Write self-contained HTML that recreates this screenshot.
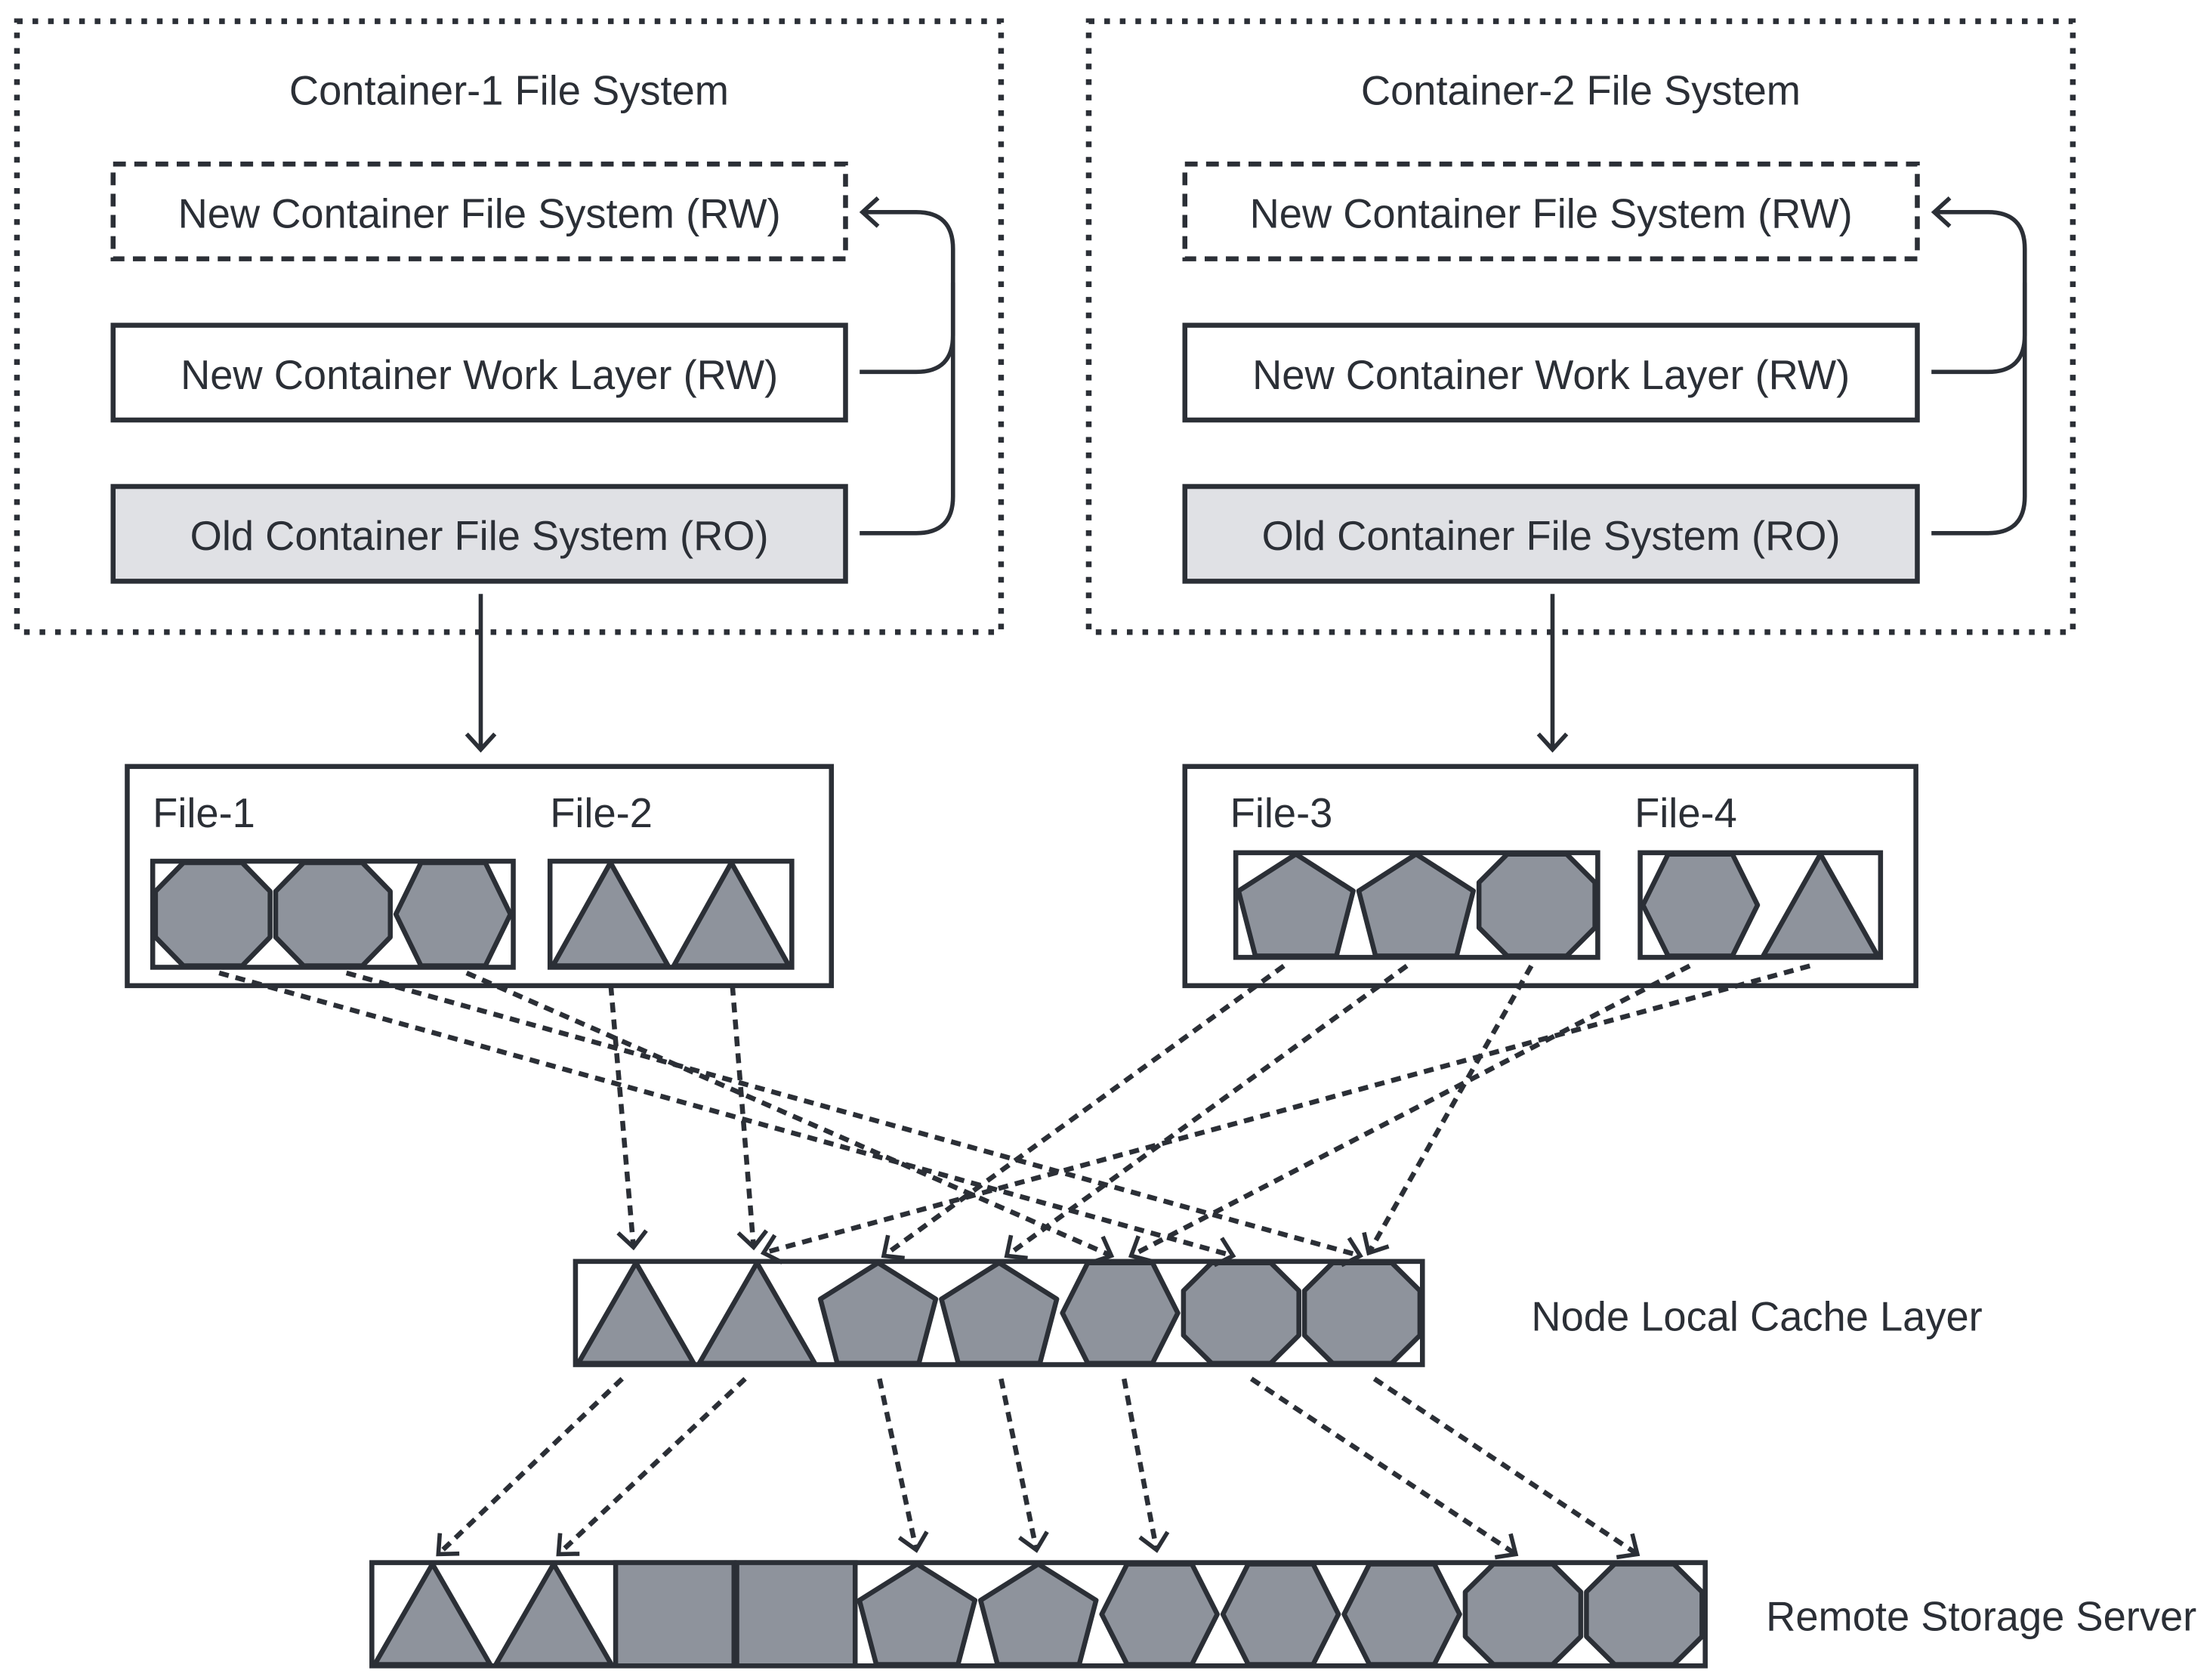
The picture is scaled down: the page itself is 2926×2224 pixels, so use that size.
<!DOCTYPE html>
<html><head><style>html,body{margin:0;padding:0;background:#fff}svg{display:block}</style></head><body>
<svg width="2926" height="2224" viewBox="0 0 1563 1188" xmlns="http://www.w3.org/2000/svg" font-family="Liberation Sans, sans-serif" fill="#2b2f36">
<defs>
<marker id="ah" markerUnits="userSpaceOnUse" markerWidth="26" markerHeight="26" refX="13" refY="13" orient="auto" viewBox="0 0 26 26">
<path d="M2,3 L13,13 L2,23" fill="none" stroke="#2b2f36" stroke-width="3"/>
</marker>
<symbol id="tri" viewBox="0 0 86 74" preserveAspectRatio="none" overflow="visible"><polygon points="43,1 84,73 2,73" fill="#8e939c" stroke="#2b2f36" stroke-width="3.5" stroke-linejoin="round"/></symbol>
<symbol id="pen" viewBox="0 0 86 74" preserveAspectRatio="none" overflow="visible"><polygon points="43,1 84,27 72,73 14,73 2,27" fill="#8e939c" stroke="#2b2f36" stroke-width="3.5" stroke-linejoin="round"/></symbol>
<symbol id="hex" viewBox="0 0 86 74" preserveAspectRatio="none" overflow="visible"><polygon points="20,1 66,1 84,37 66,73 20,73 2,37" fill="#8e939c" stroke="#2b2f36" stroke-width="3.5" stroke-linejoin="round"/></symbol>
<symbol id="oct" viewBox="0 0 86 74" preserveAspectRatio="none" overflow="visible"><polygon points="22,1 64,1 84,21 84,53 64,73 22,73 2,53 2,21" fill="#8e939c" stroke="#2b2f36" stroke-width="3.5" stroke-linejoin="round"/></symbol>
<symbol id="sq" viewBox="0 0 86 74" preserveAspectRatio="none" overflow="visible"><rect x="1" y="0" width="84" height="74" fill="#8e939c" stroke="#2b2f36" stroke-width="3.5"/></symbol>
</defs>

<g fill="none" stroke="#2b2f36">
<rect x="12" y="15" width="696" height="432" stroke-width="4" stroke-dasharray="4 7"/>
<rect x="770" y="15" width="696" height="432" stroke-width="4" stroke-dasharray="4 7"/>
<rect x="80" y="116" width="518" height="67" stroke-width="3.5" stroke-dasharray="9 6"/>
<rect x="838" y="116" width="518" height="67" stroke-width="3.5" stroke-dasharray="9 6"/>
<rect x="80" y="230" width="518" height="67" stroke-width="3.5"/>
<rect x="838" y="230" width="518" height="67" stroke-width="3.5"/>
<rect x="80" y="344" width="518" height="67" stroke-width="3.5" fill="#e0e1e5"/>
<rect x="838" y="344" width="518" height="67" stroke-width="3.5" fill="#e0e1e5"/>
<path d="M608,263 H648 Q674,263 674,237 V176 Q674,150 648,150 H610" stroke-width="3" marker-end="url(#ah)"/>
<path d="M608,377 H648 Q674,377 674,351 V200" stroke-width="3"/>
<path d="M1366,263 H1406 Q1432,263 1432,237 V176 Q1432,150 1406,150 H1368" stroke-width="3" marker-end="url(#ah)"/>
<path d="M1366,377 H1406 Q1432,377 1432,351 V200" stroke-width="3"/>
<line x1="340" y1="420" x2="340" y2="530" stroke-width="3" marker-end="url(#ah)"/>
<line x1="1098" y1="420" x2="1098" y2="530" stroke-width="3" marker-end="url(#ah)"/>
<rect x="90" y="542" width="498" height="155" stroke-width="3.5"/>
<rect x="838" y="542" width="517" height="155" stroke-width="3.5"/>
</g>

<g font-size="29" text-anchor="middle">
<text x="360" y="74">Container-1 File System</text>
<text x="1118" y="74">Container-2 File System</text>
<text x="339" y="161">New Container File System (RW)</text>
<text x="1097" y="161">New Container File System (RW)</text>
<text x="339" y="275">New Container Work Layer (RW)</text>
<text x="1097" y="275">New Container Work Layer (RW)</text>
<text x="339" y="389">Old Container File System (RO)</text>
<text x="1097" y="389">Old Container File System (RO)</text>
</g>
<g font-size="29">
<text x="108" y="585">File-1</text>
<text x="389" y="585">File-2</text>
<text x="870" y="585">File-3</text>
<text x="1156" y="585">File-4</text>
<text x="1083" y="941">Node Local Cache Layer</text>
<text x="1249" y="1153">Remote Storage Server</text>
</g>

<g>
<rect x="108" y="609" width="255" height="75" fill="#fff" stroke="#2b2f36" stroke-width="3.5"/>
<use href="#oct" x="108" y="609" width="85" height="75"/>
<use href="#oct" x="193" y="609" width="85" height="75"/>
<use href="#hex" x="278" y="609" width="85" height="75"/>
<rect x="389" y="609" width="171" height="75" fill="#fff" stroke="#2b2f36" stroke-width="3.5"/>
<use href="#tri" x="389" y="609" width="85.5" height="75"/>
<use href="#tri" x="474.5" y="609" width="85.5" height="75"/>

<rect x="874" y="603" width="256" height="74" fill="#fff" stroke="#2b2f36" stroke-width="3.5"/>
<use href="#pen" x="874" y="603" width="85" height="74"/>
<use href="#pen" x="959" y="603" width="85" height="74"/>
<use href="#oct" x="1044" y="603" width="86" height="74"/>
<rect x="1160" y="603" width="170" height="74" fill="#fff" stroke="#2b2f36" stroke-width="3.5"/>
<use href="#hex" x="1160" y="603" width="85" height="74"/>
<use href="#tri" x="1245" y="603" width="85" height="74"/>

<rect x="407" y="892" width="599" height="73" fill="#fff" stroke="#2b2f36" stroke-width="3.5"/>
<use href="#tri" x="407" y="892" width="85.6" height="73"/>
<use href="#tri" x="492.6" y="892" width="85.6" height="73"/>
<use href="#pen" x="578.2" y="892" width="85.6" height="73"/>
<use href="#pen" x="663.8" y="892" width="85.6" height="73"/>
<use href="#hex" x="749.4" y="892" width="85.6" height="73"/>
<use href="#oct" x="835" y="892" width="85.6" height="73"/>
<use href="#oct" x="920.6" y="892" width="85.6" height="73"/>

<rect x="263" y="1105" width="943" height="73" fill="#fff" stroke="#2b2f36" stroke-width="3.5"/>
<use href="#tri" x="263" y="1105" width="85.7" height="73"/>
<use href="#tri" x="348.7" y="1105" width="85.7" height="73"/>
<use href="#sq" x="434.4" y="1105" width="85.7" height="73"/>
<use href="#sq" x="520.1" y="1105" width="85.7" height="73"/>
<use href="#pen" x="605.8" y="1105" width="85.7" height="73"/>
<use href="#pen" x="691.5" y="1105" width="85.7" height="73"/>
<use href="#hex" x="777.2" y="1105" width="85.7" height="73"/>
<use href="#hex" x="862.9" y="1105" width="85.7" height="73"/>
<use href="#hex" x="948.6" y="1105" width="85.7" height="73"/>
<use href="#oct" x="1034.3" y="1105" width="85.7" height="73"/>
<use href="#oct" x="1120" y="1105" width="85.7" height="73"/>
</g>

<g fill="none" stroke="#2b2f36" stroke-width="3.5" stroke-dasharray="7 5" marker-end="url(#ah)">
<line x1="155" y1="688" x2="872" y2="888"/>
<line x1="245" y1="688" x2="962" y2="888"/>
<line x1="330" y1="688" x2="786" y2="888"/>
<line x1="432" y1="697" x2="448" y2="882"/>
<line x1="518" y1="697" x2="533" y2="882"/>
<line x1="908" y1="683" x2="625" y2="888"/>
<line x1="995" y1="683" x2="712" y2="888"/>
<line x1="1083" y1="683" x2="968" y2="886"/>
<line x1="1195" y1="683" x2="800" y2="888"/>
<line x1="1280" y1="683" x2="540" y2="886"/>
<line x1="440" y1="975" x2="310" y2="1099"/>
<line x1="527" y1="975" x2="395" y2="1099"/>
<line x1="622" y1="975" x2="648" y2="1096"/>
<line x1="708" y1="975" x2="733" y2="1096"/>
<line x1="795" y1="975" x2="818" y2="1096"/>
<line x1="885" y1="975" x2="1072" y2="1099"/>
<line x1="972" y1="975" x2="1158" y2="1099"/>
</g>
</svg>
</body></html>
